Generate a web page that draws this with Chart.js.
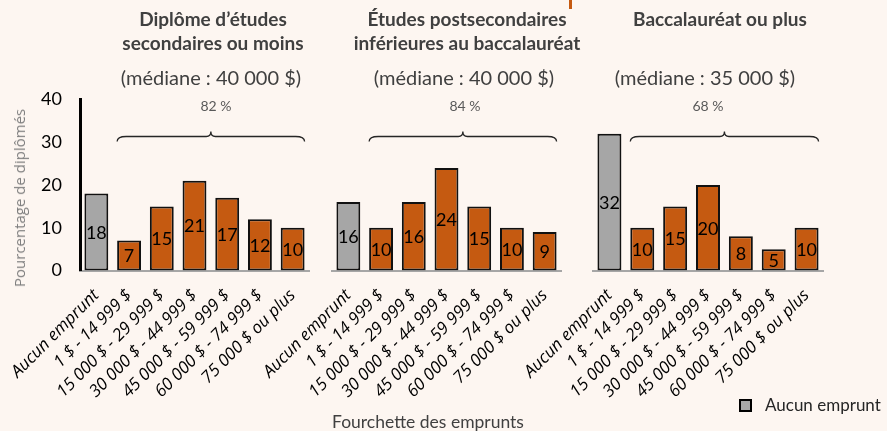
<!DOCTYPE html>
<html lang="fr">
<head>
<meta charset="utf-8">
<script src="https://cdn.jsdelivr.net/npm/chart.js@4.4.1/dist/chart.umd.min.js"></script>
<style>
  html, body { margin: 0; padding: 0; }
  body { width: 887px; height: 431px; background: #fdf6f1; position: relative; overflow: hidden; font-family: Lato, sans-serif; }
  canvas { position: absolute; left: 0; top: 0; }
  .txt { position: absolute; transform: translateX(-50%); white-space: nowrap; text-align: center; }
  .title { font-weight: bold; font-size: 19px; color: #404040; line-height: 24px; top: 7px; }
  .median { font-size: 20px; color: #404040; top: 65px; }
  .share { font-size: 14px; color: #595959; top: 97px; }
  .xtitle { font-size: 17.5px; color: #404040; top: 411px; left: 428px; }
  .ytitle { position: absolute; left: 19px; top: 198px; transform: translate(-50%, -50%) rotate(-90deg);
    white-space: nowrap; font-family: 'Open Sans'; font-size: 15px; color: #7f7f7f; }
  .legend { position: absolute; left: 739px; top: 394px; font-size: 17px; color: #262626; }
  .legend span.box { display: inline-block; width: 9px; height: 9px; background: #a6a6a6; border: 2px solid #000; vertical-align: -1px; margin-right: 13px; }
  .cut { position: absolute; left: 569px; top: 0; width: 3px; height: 9px; background: #c55a11; }
</style>
</head>
<body>
<div class="cut"></div>
<canvas id="c1" width="887" height="431"></canvas>
<canvas id="c2" width="887" height="431"></canvas>
<canvas id="c3" width="887" height="431"></canvas>

<div class="txt title" style="left:213px">Diplôme d’études<br>secondaires ou moins</div>
<div class="txt title" style="left:467px">Études postsecondaires<br>inférieures au baccalauréat</div>
<div class="txt title" style="left:720px">Baccalauréat ou plus</div>
<div class="txt median" style="left:211px">(médiane : 40 000 $)</div>
<div class="txt median" style="left:464px">(médiane : 40 000 $)</div>
<div class="txt median" style="left:705px">(médiane : 35 000 $)</div>
<div class="txt share" style="left:216px">82 %</div>
<div class="txt share" style="left:465px">84 %</div>
<div class="txt share" style="left:708px">68 %</div>
<div class="ytitle">Pourcentage de diplômés</div>
<div class="txt xtitle">Fourchette des emprunts</div>
<div class="legend"><span class="box"></span>Aucun emprunt</div>

<script>
// loan brackets, shared by the three panels
const categories = ['Aucun emprunt', '1 $ - 14 999 $', '15 000 $ - 29 999 $', '30 000 $ - 44 999 $',
  '45 000 $ - 59 999 $', '60 000 $ - 74 999 $', '75 000 $ ou plus'];

// percentage of graduates by level of study
const secondaireOuMoins = [18, 7, 15, 21, 17, 12, 10];
const postsecondaires = [16, 10, 16, 24, 15, 10, 9];
const baccalaureat = [32, 10, 15, 20, 8, 5, 10];

const yTicks = [0, 10, 20, 30, 40];

const grayBar = '#a6a6a6';
const orangeBar = '#c55a11';

Chart.defaults.font.family = 'Lato';

// writes the value in the middle of each bar
const barValues = {
  id: 'barValues',
  afterDatasetsDraw (chart) {
    let ctx = chart.ctx;
    let meta = chart.getDatasetMeta(0);
    ctx.save();
    ctx.font = '18px Lato';
    ctx.fillStyle = '#000';
    ctx.textAlign = 'center';
    ctx.textBaseline = 'middle';
    meta.data.forEach (function(bar, i) {
      ctx.fillText(chart.data.datasets[0].data[i], bar.x, (bar.y + bar.base) / 2 + 1);
    });
    ctx.restore();
  }
};

// curly brace over the bars of borrowers
const brace = {
  id: 'brace',
  afterDatasetsDraw (chart) {
    let ctx = chart.ctx;
    let meta = chart.getDatasetMeta(0);
    let first = meta.data[1];
    let last = meta.data[meta.data.length - 1];
    let x0 = first.x - first.width / 2;
    let x1 = last.x + last.width / 2;
    let xm = (x0 + x1) / 2;
    let top = chart.chartArea.top;
    let yTip = top + 32, yMid = top + 37, yEnd = top + 42;
    let r = 9;
    ctx.save();
    ctx.strokeStyle = '#262626';
    ctx.lineWidth = 1.3;
    ctx.beginPath();
    ctx.moveTo(x0, yEnd);
    ctx.quadraticCurveTo(x0, yMid, x0 + r, yMid);
    ctx.lineTo(xm - r / 2, yMid);
    ctx.quadraticCurveTo(xm, yMid, xm, yTip);
    ctx.quadraticCurveTo(xm, yMid, xm + r / 2, yMid);
    ctx.lineTo(x1 - r, yMid);
    ctx.quadraticCurveTo(x1, yMid, x1, yEnd);
    ctx.stroke();
    ctx.restore();
  }
};

// left / right are the pixel edges of the plot area
function panel (id, values, left, right, showY) {
  let ctx = document.getElementById(id);
  let colors = values.map(function(v, i) { return i === 0 ? grayBar : orangeBar; });

  return new Chart(ctx, {
    type: 'bar',
    data: {
      labels: categories,
      datasets: [{
        data: values,
        backgroundColor: colors,
        borderColor: '#111',
        borderWidth: 2,
        borderSkipped: false,
        barPercentage: 0.73,
        categoryPercentage: 1
      }]
    },
    options: {
      responsive: false,
      animation: false,
      events: [],
      layout: { padding: { left: 0, right: 887 - right, top: 99.5, bottom: 0 } },
      plugins: { legend: { display: false }, tooltip: { enabled: false } },
      scales: {
        x: {
          grid: { display: false, drawTicks: false },
          border: { color: '#a6a6a6', width: 2 },
          ticks: {
            autoSkip: false, minRotation: 45, maxRotation: 45, padding: 15,
            color: '#000', font: { family: 'Open Sans', size: 17, style: 'italic' }
          },
          afterFit: function(scale) {
            scale.height = 160.5;
            // labels may spill outside the canvas slot, keep the plot edges fixed
            scale.paddingLeft = 0;
            scale.paddingRight = 0;
          }
        },
        y: {
          min: 0, max: 40,
          afterBuildTicks: function(scale) { scale.ticks = yTicks.map(function(v) { return {value: v}; }); },
          grid: { display: false, drawTicks: false },
          border: { display: showY, color: '#000', width: 3 },
          ticks: { display: showY, color: '#000', padding: 18, font: { size: 18 } },
          afterFit: function(scale) { scale.width = left; }
        }
      }
    },
    plugins: [barValues, brace]
  });
}

panel('c1', secondaireOuMoins, 80, 309, true);
panel('c2', postsecondaires, 332, 561, false);
panel('c3', baccalaureat, 593, 823, false);
</script>
</body>
</html>
